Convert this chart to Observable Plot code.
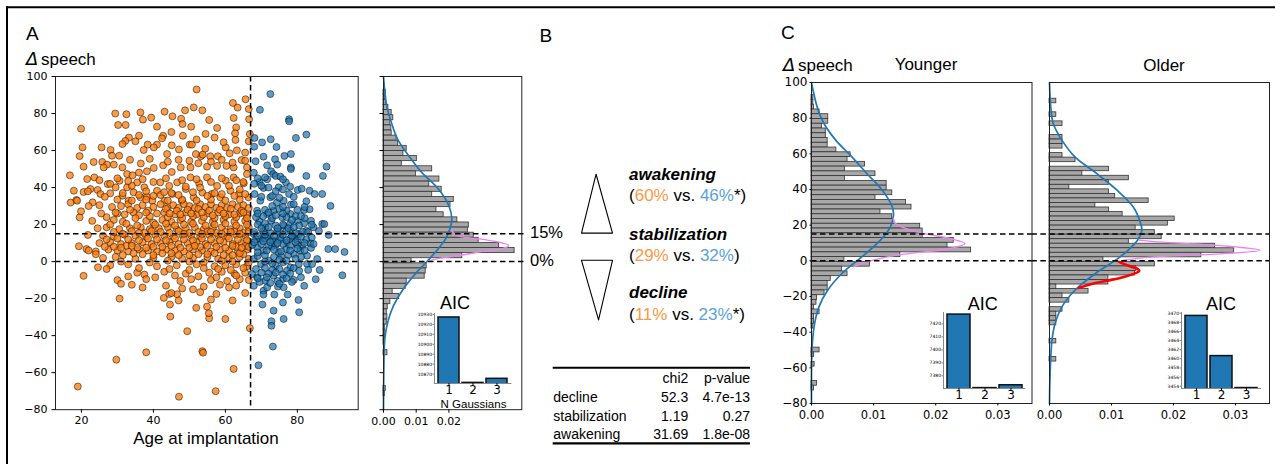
<!DOCTYPE html>
<html><head><meta charset="utf-8">
<script src="https://cdn.jsdelivr.net/npm/d3@7"></script>
<script src="https://cdn.jsdelivr.net/npm/@observablehq/plot@0.6"></script>
<style>
body{margin:0;background:#fff;}
#fig{position:relative;width:1283px;height:464px;overflow:hidden;background:#fff;}
</style></head><body><div id="fig"></div>
<script>
// ---------------- DATA ----------------
const ORANGE = "#ff7f0e", BLUE = "#1f77b4";
const ageSplit = 67;
const thresholds = [0, 15];
const ageTicks = [20, 40, 60, 80];
const deltaTicks = [-80, -60, -40, -20, 0, 20, 40, 60, 80, 100];

// scatter: [age at implantation, delta speech]
const youngerPts = [
[52,93],[19,-67.5],[29.7,-53],[38,-49],[47.1,-73],[49.4,-37.6],[53.6,-48.4],[53.8,-49.2],[57.3,-70],[62.3,-58],[60,-31],[66.8,-36],[55.5,-30.6],[55.4,-27.9],[54.9,-24.3],[51.9,-25],[44.7,-29.7],[44.6,-23.2],[42.9,-19.6],[44.4,-17.5],[46.6,-17.6],[30.6,-20],[20.6,-7.7],[24.6,-3.1],
[16.8,46.6],[17,31.9],[18.6,33.3],[19.9,71.8],[20.3,61.7],[19.5,57],[20.6,51.3],[19.5,23.9],[19.9,27.2],[19.3,8.3],[21.4,6.8],[21.8,14.4],[23.1,32],[22.5,39.2],[21.6,44.6],[25.6,61.7],[25.8,53.8],[27.1,52.4],
[29.4,80],[32.5,79.6],[30.2,73.8],[32.3,73.8],[36.4,80.6],[37.1,76.7],[39.4,77.8],[41,72.9],[43.1,81],[45.3,78.5],[47.7,77.2],[48.8,81.7],[51.2,83.3],[53.6,81.7],[48.1,74.3],[50.5,72.9],[55.5,76.5],[57.7,72.2],[62.1,85.7],[63.4,83.2],[65.6,87.7],[66.5,82.4],[62.3,77.6],[63,72.5],[66.6,76.9],[62.7,69.3],[62.8,65.7],[66.8,68.9],[66.5,65],
[48.2,68],[42.7,68],[42.4,66.6],[33.2,67],[32.2,65.2],[35,65],[31.4,63.5],[38.4,63.2],[41,63.2],[37.3,60.3],[45.1,62.8],[47.1,60.6],[50.1,63.2],[50.7,63.2],[53.2,56.9],[53.7,57.8],[55.8,56.9],[57.9,56.9],[60.1,61.7],[61.2,58.5],[63.2,60.1],[65.5,58.9],[54.4,61],[51.8,58.1],[43.8,58.1],[40.1,61.7],[28.1,60.3],[28.5,57.2],[30.5,57.2],
[23.4,53.8],[23.6,45.5],[26.2,50.9],[29,52.4],[31.4,50.9],[32.7,47.3],[34.2,46.6],[36,48.1],[38.2,48.8],[40.1,50.6],[42.7,52],[45.1,48.4],[47.6,50.9],[50.3,50.9],[52.5,53.1],[54.9,51.3],[57.7,51.7],[60.3,51.7],[62.3,50.9],[64.5,54.9],[66,50.9],
[17.9,38.3],[18.8,32.9],[20.6,37.6],[21.8,38],[24.5,38.7],[25.3,36.5],[27.3,41.9],[28,36.9],[29.5,40.1],[30.6,43.7],[31.4,35.6],[32.7,40.1],[33.1,32.9],[34.5,37.4],[35.5,42.8],[36.4,34.7],[37.5,40.1],[38.2,35.1],[39.7,32.9],[41,38.3],[41.9,42.8],[43.1,32.9],[44.4,40.9],[45.3,36.5],[46.6,42.8],[47.9,32.9],[49,39.2],[50.3,45.5],[51.2,34.7],[52.7,42.3],[53.6,37.3],[54.9,45.5],[56.2,36.5],[57.7,40.9],[58.6,34.7],[60.1,43.7],[61.4,38.3],[62.3,45.5],[63.8,36.5],[65.1,42.3],[66,47.3],[66.4,34.7],
[45,37],[49,40.5],[53,40],[57,37],[61,41],[64,39],[38,38],[42,36],[34,41],[28,42],
[22,30],[25,30.5],[28.5,29.5],[31,30],[33,31],[35.5,29],[37,30.5],[40,29.5],[42,31],[44,29],[45.5,30.5],[47,29],[48.5,31],[50,30],[51.5,29],[53,31],[54.5,29.5],[56,31],[57.5,29],[59,30.5],[60.5,29],[62,31],[63.5,29.5],[65,30.5],[66.5,29],
[30,26],[32,25.5],[34.5,26.5],[36,25],[41,26],[43,26.5],[46,25.5],[49,26.5],[52,25.5],[55,26],[58,26.5],[61,25.5],[64,26],[66,25],
[23,22],[29,22.5],[31.5,21.5],[38,22],[40,21],[42.5,22.5],[45,21.5],[47.5,22.5],[50.5,21.5],[53.5,22],[56.5,21.5],[59.5,22.5],[62.5,21.5],[65.5,22],
[24.5,18],[27,18.5],[30.5,17.5],[33.5,18],[36.5,18.5],[39,17.5],[41.5,18],[44,18.5],[46.5,17.5],[49,18],[51.5,18.5],[54,17.5],[56.5,18],[59,18.5],[61.5,17.5],[64,18],[66.5,18.5],
[26,14],[29,13.5],[32,14.5],[35,14],[38,13.5],[40.5,14.5],[43,14],[45.5,13.5],[48,14.5],[50.5,14],[53,13.5],[55.5,14.5],[58,14],[60.5,13.5],[63,14.5],[65.5,14],
[25,10],[28,10.5],[31,9.5],[34,10],[37,10.5],[39.5,9.5],[42,10],[44.5,10.5],[47,9.5],[49.5,10],[52,10.5],[54.5,9.5],[57,10],[59.5,10.5],[62,9.5],[64.5,10],[66.5,10.5],
[22,6],[24,5.5],[27.5,6.5],[30,6],[33,5.5],[36,6.5],[38.5,6],[41,5.5],[43.5,6.5],[46,6],[48.5,5.5],[51,6.5],[53.5,6],[56,5.5],[58.5,6.5],[61,6],[63.5,5.5],[66,6.5],
[26,2],[29.5,2.5],[35,1.5],[40,2],[45,2.5],[48,1.5],[51,2],[55,2.5],[58,1.5],[61,2],[64,2.5],[66.5,1.5],
[28,-2],[33,-1.5],[41,-2.5],[46.5,-2],[52,-1.5],[57,-2.5],[60,-2],[63,-1.5],[66,-2.5],
[35.5,-6],[37.5,-7],[43,-5.5],[49,-6.5],[55.5,-6],[59,-5.5],[62.5,-6.5],[65.5,-6],
[30,-10],[38,-9.5],[47.5,-10.5],[50.5,-9.5],[56,-10],[60.5,-10.5],[64,-9.5],[66.5,-10],
[31,-12],[34,-12.5],[43.5,-13],[54,-13.5],[58.5,-12.5],[63,-13],
[45,-17],[53,-16.5],[57.5,-17.5],[65.5,-17],
[30,33.5],[34,33],[38,33.5],[44,33],[48,33.5],[52,33],[56,33.5],[60,33],[64,33.5],
[27,24],[35,23.5],[39,24.5],[44,24],[48,23.5],[51,24.5],[54,24],[57,23.5],[60,24.5],[63,24],[66,23.5],
[29,16],[34,16.5],[37.5,15.5],[42,16],[47,16.5],[50,15.5],[52.5,16],[55,16.5],[57.5,15.5],[60,16],[62.5,16.5],[65,15.5],
[27,12],[30,12.5],[36,11.5],[41,12],[46,12.5],[51,11.5],[56,12],[61,12.5],[66,11.5],
[29,8],[32.5,8.5],[35.5,7.5],[40,8],[45,8.5],[50,7.5],[53,8],[55,8.5],[60,7.5],[63,8],[65.5,8.5],
[37,4],[42.5,4.5],[47,3.5],[52.5,4],[57,4.5],[62,3.5],[65,4],
[31,0],[39,-0.5],[44,0.5],[50,0],[54,-0.5],[59,0.5],[62,0],[66.5,-0.5],
[33.5,28],[38.5,27.5],[43.5,28.5],[46.5,27.5],[49.5,28],[52.5,28.5],[55.5,27.5],[58.5,28],[61.5,28.5],[64.5,27.5],
[28,20],[32.5,20.5],[35.5,19.5],[40.5,20],[43.5,20.5],[46,19.5],[48.5,20],[51,20.5],[54.5,19.5],[57,20],[60,20.5],[63,19.5],[66,20],
[33,12],[38.5,12.5],[43.5,11.5],[48.5,12],[53.5,12.5],[58.5,11.5],[63.5,12],
[24,4],[31.5,3.5],[34.5,4.5],[40,3.5],[45,4.5],[50,3.5],[55,4],[59.5,3.5],[64,4.5],
[27,-4],[36,-3.5],[44.5,-4],[50,-4.5],[54,-3.5],[58,-4],[61.5,-4.5],[65,-3.5],
[33,-8],[40.5,-8.5],[46,-7.5],[52.5,-8],[57.5,-8.5],[63,-7.5],
[37,-14],[48,-14.5],[51,-15],[61,-14],
[47,-21],[56,-20.5],[62,-21],
[26.5,35],[31.5,37],[36,36],[40,35.5],[43,37.5],[47,36],[51,37.5],[55,35.5],[59,36.5],[62.5,35.5],[65.5,36.5],
[25,44],[30,45],[33,43.5],[37,44.5],[40,43],[43.5,45],[48,44],[52,44.5],[56,43],[59,45],[63,44],[65,43],
[33.5,55],[36.5,53],[39,55.5],[44,54],[47,55],[50,54.5],[56,54],[59,55],[62,53.5],[65.5,54.5],
[36,68],[45,70],[52,66],[57,67],[59.5,64.5],[54.5,69],
[25.5,26],[29.5,26.5],[38,26.5],[44.5,26],[47.5,25.5],[50.5,26],[53.5,26.5],[56.5,25],[59.5,26],[62.5,25.5],[65,26.5],
[31.5,15],[36,15.5],[39.5,16.5],[44.5,15.5],[48.5,15],[53.5,15],[56,16],[59,15],[61.5,16],[64,15],[66.5,16],
[26.5,8],[31,7.5],[34,8.5],[38,7.5],[42.5,8],[47.5,7.5],[51.5,8.5],[57.5,8],[62,8.5],[64.5,7.5],[66.5,8]
];
const olderPts = [
[72.5,90.5],[69.6,82],[77.7,76.9],[77.7,75.8],[79.6,66.8],[82.5,68.6],[68.1,66.8],[70.2,64.4],[72.6,66.1],[74.2,61.9],[68,62.1],[70.6,56.7],[76.4,57.1],[78.2,58.1],[73.8,55.3],[68.4,54.2],[71.6,52],[74.4,52.4],[78.2,50.9],[78.2,50],[88.1,51.3],[82.5,46.3],[87.1,46.3],[72.7,48.8],[73.3,47.3],[74,46.3],[67.9,48],[69.5,43],[71.6,44.5],[75.3,45.9],[76.8,42.8],[70.6,39.8],[74.8,40.1],[77.7,36.5],[80.1,38.7],[81.2,39.4],[83.4,38.3],[84.8,36.5],[86.9,36.5],[82.5,32.6],[89.2,30.1],[81.9,27.9],[83.4,28.3],[68.1,36.5],[69.7,32.9],[72.5,34.7],[74.3,31.9],[76.2,32.9],[78.2,30.8],[68.8,27.5],[71.6,25.7],[73.4,27.5],[75.8,23.9],[78.1,25.7],[80,22.2],[81.9,20.7],[83.8,22.1],[86.9,20.3],[87.5,20.3],[69.4,21.8],[71.1,18.5],[72.7,22.1],[74.4,16.7],[76.2,19.4],[78.1,16.7],[80.4,14.9],[82.5,16.7],[84.5,18.5],[88.7,14.4],[67.9,14.9],[69.7,12.2],[71.6,13.9],[73.4,11.3],[75.3,13.1],[77.1,10.4],[79,12.8],[81.3,8.6],[83.6,9.9],[83.8,7.4],[88.6,6.8],[90.5,6.8],[93.1,5.2],[68.8,7.7],[70.6,5.9],[72.9,8.1],[74.8,5],[76.9,6.8],[79,4.1],[80.8,5.9],[82.7,3.2],[85.5,1.4],[67.9,1.4],[69.9,-1.3],[72.1,0.5],[74,-2.2],[76,-0.4],[78.1,-3.1],[80.4,-1.3],[82.7,-1.3],[84.1,-1.3],[86.2,-4.5],[85.1,-9.5],[92.5,-7.4],[67.4,-6.7],[68.8,-8.5],[71.1,-10.3],[73.4,-7.6],[76,-9.4],[77.1,-4.9],[79,-9.9],[81,-8.5],[81.9,-13.1],[67.9,-13.1],[70.6,-15.7],[71.6,-13.9],[74.6,-13.5],[76.2,-13.9],[70.6,-17.8],[73.6,-17.8],[70.3,-23.2],[77.3,-17.8],[76,-22.1],[80.3,-20.7],[73.4,-26.5],[80.5,-27.4],[72.8,-32.2],[72.8,-34.7],[76.2,-31],[73.2,-45.9],[69.2,-56],
[69,45],[71,45.5],[76,44.5],[70,35],[73,35.5],[75,34.5],[79,35],[71,28],[75,28.5],[77,27.5],[80,28],[68.5,24],[70.5,24.5],[73,23.5],[77,24],[79.5,24.5],[82,23.5],[69,20],[71,20.5],[74,19.5],[76,20],[78,20.5],[80.5,19.5],[84,20],[68,16],[70.5,16.5],[72.5,15.5],[75,16],[77,16.5],[79.5,15.5],[81.5,16],[86,16.5],[68.5,12],[71,12.5],[73,11.5],[75.5,12],[78,12.5],[80,11.5],[82.5,12],[67.5,9],[70,9.5],[72,8.5],[74,9],[76,9.5],[78,8.5],[80,9],[84.5,9.5],[69,3],[71,3.5],[73.5,2.5],[75.5,3],[77.5,3.5],[81,2.5],[68.5,-4],[71,-3.5],[73,-4.5],[75,-4],[79,-3.5],[83,-4.5],[69.5,-11],[72.5,-11.5],[74.5,-10.5],[78.5,-11],
[68,42],[70,41],[72,40],[74,38],[76,39],[78,40.5],[73,30],[76,29.5],[79,31],[82,29.5],[69,26],[72,26.5],[74,25],[76,26],[78.5,22.5],[81,24.5],[70,18],[72,18.5],[74.5,18],[77.5,18],[79,18.5],[83,16],[69,14],[71,14.5],[73.5,14],[76,14.5],[78.5,14],[81,13.5],[84,13],[68,10.5],[70.5,11],[72.5,10.5],[74.5,10],[77,11.5],[79.5,10.5],[82,10],[69,5],[71.5,6],[73.5,6.5],[75.5,5.5],[78,6],[80,7],[82,6],[71,0],[73,-1],[75,1],[77,0.5],[79.5,1.5],[70,-6],[72,-6.5],[74,-6],[76,-7],[78,-6.5],[80.5,-5],[69,-9],[71.5,-8.5],[75,-12],[77,-9]
];

// histograms: density per bin (in the units of each panel's axis), listed from the top bin downward
const histAllTop = 92.9, histAllBin = 2.76;
const histAll = [0.0007,0.0004,0.0007,0.0015,0.0025,0.0030,0.0021,0.0024,0.0025,0.0040,0.0045,0.0071,0.0061,0.0102,0.0056,0.0149,0.0099,0.0171,0.0140,0.0178,0.0149,0.0215,0.0205,0.0162,0.0184,0.0226,0.0261,0.0258,0.0276,0.0291,0.0353,0.0401,0.0241,0.0086,0.0132,0.0129,0.0126,0.0071,0.0068,0.0028,0.0048,0.0021,0.0013,0.0010,0.0012,0.0010,0.0004,0.0004,0.0004,0.0004,0,0.0012,0,0,0,0,0,0,0.0007,0.0004];
const histYoungTop = 92.9, histYoungBin = 2.671;
const histYoung = [0.0003,0.0003,0.0004,0.0013,0.0027,0.0027,0.0017,0.0023,0.0023,0.0026,0.0026,0.0040,0.0063,0.0058,0.0086,0.0054,0.0103,0.0054,0.0121,0.0121,0.0130,0.0103,0.0152,0.0161,0.0111,0.0130,0.0132,0.0175,0.0179,0.0179,0.0229,0.0219,0.0257,0.0143,0.0053,0.0094,0.0049,0.0058,0.0031,0.0026,0.0026,0.0021,0.0009,0.0008,0.0004,0.0013,0.0004,0.0004,0.0003,0,0,0,0,0.0013,0.0004,0,0.0005,0,0,0,0.0009,0.0004];
const histOldTop = 90.9, histOldBin = 2.541;
const histOld = [0.0011,0,0,0.0011,0,0.0021,0,0,0.0021,0.0021,0.0021,0,0.0021,0.0042,0,0.0096,0.0053,0.0128,0.0096,0.0032,0.0096,0.0106,0.0160,0.0074,0.0096,0.0118,0.0202,0.0191,0.0139,0.0170,0.0181,0.0128,0.0267,0.0298,0.0245,0.0087,0.0170,0.0140,0.0138,0.0095,0.0095,0.0011,0.0063,0.0021,0.0032,0,0.0021,0.0011,0.0011,0.0011,0,0,0,0.0011,0,0,0,0.0011];

// fitted curves: [delta, density]
const fitAll1 = [[100,0],[84,0.0010],[75.2,0.0024],[66.2,0.0043],[57.2,0.0077],[48.2,0.0117],[39.2,0.0168],[30.2,0.0200],[23,0.0209],[17.6,0.0203],[12.3,0.0190],[6,0.0163],[0.4,0.0135],[-5.7,0.0102],[-14.7,0.0061],[-23.7,0.0031],[-32.7,0.0013],[-41.7,0.0004],[-59.7,0.0001],[-80,0]];
const fitAllPeak = [[16.7,0.0208],[14,0.0226],[12,0.0304],[10.4,0.0356],[8.7,0.0383],[7,0.0364],[5.5,0.0304],[3.6,0.0241],[2,0.0178],[0.4,0.0137]];
const fitYoung1 = [[100,0],[86.4,0.0009],[77,0.002],[67.7,0.0039],[58.3,0.0065],[49,0.0089],[39.6,0.0114],[30.3,0.0130],[25.6,0.0132],[19.1,0.0127],[11.6,0.0111],[2.2,0.0081],[-7.1,0.0049],[-16.5,0.0026],[-25.8,0.0012],[-35.2,0.0005],[-48.3,0.0001],[-80,0]];
const fitYoungPeak = [[23.7,0.0132],[21,0.0135],[16.2,0.0170],[12.5,0.0223],[9.7,0.0247],[6.9,0.0223],[3.2,0.0138],[-0.6,0.0089],[-3.3,0.0068]];
const fitOld1 = [[100,0],[86.4,0.0002],[77,0.0006],[67.7,0.002],[58.3,0.0041],[49,0.0076],[39.6,0.0109],[30.3,0.0135],[21,0.0147],[17.2,0.0149],[11.6,0.0142],[2.2,0.0114],[-7.1,0.0074],[-16.5,0.0041],[-25.8,0.002],[-35.2,0.0009],[-44.5,0.0004],[-63.2,0.0001],[-80,0]];
const fitOldPeak = [[11.6,0.0144],[10.8,0.0168],[8.5,0.0276],[6,0.0339],[3.9,0.0276],[2.2,0.0168],[0.4,0.0119]];
const fitOldDecline = [[-0.6,0.0112],[-2.5,0.0125],[-4.5,0.0142],[-5.6,0.0145],[-7,0.0138],[-9,0.0120],[-11,0.0095],[-13,0.0068],[-15.2,0.0047]];

// AIC by number of Gaussians
const nGauss = ["1","2","3"];
const aicAll = [10927, 10861.2, 10865.3];
const aicYoung = [7427.2, 7370.6, 7372.8];
const aicOld = [3469.4, 3460.6, 3453.6];

// panel B
const outcomes = ["awakening","stabilization","decline"];
const pctYounger = ["60%","29%","11%"];
const pctOlder = ["46%","32%","23%"];
const signif = [true,false,true];
const upArrow = [[0,15.4],[0.47,47.2],[1,15.4],[0,15.4]];
const downArrow = [[0,0.7],[1,0.7],[0.55,-31.5],[0,0.7]];
const tableCols = ["chi2","p-value"];
const tableRows = ["decline","stabilization","awakening"];
const tableChi2 = ["52.3","1.19","31.69"];
const tablePval = ["4.7e-13","0.27","1.8e-08"];

// ---------------- DRAW ----------------
const fig = document.getElementById("fig");
const TICKFONT = "DejaVu Sans";
const SANS = "Liberation Sans, Arial, sans-serif";
function place(el, left, top, z) {
  el.style.position = "absolute"; el.style.left = left + "px"; el.style.top = top + "px";
  el.style.zIndex = z || 1; fig.appendChild(el);
}
function st(size) { return {background: "none", overflow: "visible", fontFamily: TICKFONT, fontSize: size + "px", color: "#000"}; }
function rows(dens, top, w) {
  return dens.map((d, i) => ({d, y2: top - i * w, y1: top - (i + 1) * w})).filter(r => r.d > 0);
}
const dash = {stroke: "#000", strokeWidth: 1.5, strokeDasharray: "5.5,3.5"};
const fmt2 = d3.format(".2f");
const fmtInt = d3.format("d");

// Panel A scatter
{
  const L = 55, R = 357.7, T = 75.5, B = 408.7, mL = 45, mR = 2, mT = 2, mB = 32;
  const p = Plot.plot({
    width: R - L + mL + mR, height: B - T + mT + mB,
    marginLeft: mL, marginRight: mR, marginTop: mT, marginBottom: mB,
    style: st(11),
    x: {domain: [12.8, 96.9]}, y: {domain: [-80, 100]},
    marks: [
      Plot.dot(youngerPts, {x: d => d[0], y: d => d[1], r: 3.5, fill: ORANGE, fillOpacity: 0.78, stroke: "#000", strokeOpacity: 0.7, strokeWidth: 0.7}),
      Plot.dot(olderPts, {x: d => d[0], y: d => d[1], r: 3.5, fill: BLUE, fillOpacity: 0.72, stroke: "#000", strokeOpacity: 0.7, strokeWidth: 0.7}),
      Plot.ruleY(thresholds, dash),
      Plot.ruleX([ageSplit], dash),
      Plot.frame({stroke: "#222"}),
      Plot.axisX(ageTicks, {tickSize: 3.5, tickPadding: 3.5, label: null}),
      Plot.axisY(deltaTicks, {tickSize: 3.5, tickPadding: 4.5, label: null})
    ]
  });
  place(p, L - mL, T - mT);
}
// Panel A histogram
{
  const L = 383, R = 521.3, T = 75.5, B = 408.7, mL = 8, mR = 10, mT = 2, mB = 32;
  const p = Plot.plot({
    width: R - L + mL + mR, height: B - T + mT + mB,
    marginLeft: mL, marginRight: mR, marginTop: mT, marginBottom: mB,
    style: st(11),
    x: {domain: [0, 0.0423]}, y: {domain: [-80, 100]},
    marks: [
      Plot.rect(rows(histAll, histAllTop, histAllBin), {x1: () => 0, x2: "d", y1: "y1", y2: "y2", fill: "#a8a8a8", stroke: "#333", strokeWidth: 0.8}),
      Plot.line(fitAll1, {x: d => d[1], y: d => d[0], stroke: BLUE, strokeWidth: 1.7, curve: "catmull-rom"}),
      Plot.line(fitAllPeak, {x: d => d[1], y: d => d[0], stroke: "violet", strokeWidth: 1.4, curve: "catmull-rom"}),
      Plot.ruleY(thresholds, {...dash, x1: () => 0, x2: () => 0.0438}),
      Plot.frame({stroke: "#222"}),
      Plot.axisX([0, 0.01, 0.02], {tickSize: 3.5, tickPadding: 3.5, tickFormat: fmt2, label: null}),
      Plot.axisY(deltaTicks, {tickSize: 3.5, tickFormat: () => "", label: null})
    ]
  });
  place(p, L - mL, T - mT);
}
// AIC inset
function aicInset(vals, dom, ticks, L, R, T, B, z) {
  const mL = 22, mR = 2, mT = 2, mB = 16;
  const p = Plot.plot({
    width: R - L + mL + mR, height: B - T + mT + mB,
    marginLeft: mL, marginRight: mR, marginTop: mT, marginBottom: mB,
    style: st(12),
    x: {type: "band", domain: nGauss, padding: 0.12}, y: {domain: dom},
    marks: [
      Plot.barY(vals, {x: (d, i) => nGauss[i], y: d => d, fill: BLUE, stroke: "#111", strokeWidth: 1.5, clip: true}),
      Plot.ruleY([dom[0]], {stroke: "#888", strokeWidth: 1}),
      Plot.frame({anchor: "left", stroke: "#888"}),
      Plot.axisY(ticks, {tickSize: 1.5, tickPadding: 1, fontSize: 4.5, tickFormat: fmtInt, label: null, stroke: "#888"}),
      Plot.axisX({tickSize: 2, tickPadding: 0, label: null})
    ]
  });
  place(p, L - mL, T - mT, z || 2);
}
aicInset(aicAll, [10860.6, 10931], [10870, 10880, 10890, 10900, 10910, 10920, 10930], 434.3, 511.7, 313.3, 383.3);
aicInset(aicYoung, [7370.3, 7428.8], [7380, 7390, 7400, 7410, 7420], 942.7, 1025, 312.3, 388.3);
aicInset(aicOld, [3453.5, 3470.15], [3454, 3456, 3458, 3460, 3462, 3464, 3466, 3468, 3470], 1181, 1261, 312.3, 388.3);

// Panel B triangles (in delta coordinates, aligned with 0% / 15%)
{
  const L = 580.7, R = 611.7, T = 75.5, B = 408.7, m = 3;
  const p = Plot.plot({
    width: R - L + 2 * m, height: B - T + 2 * m, margin: m, style: st(11),
    x: {domain: [0, 1], axis: null}, y: {domain: [-80, 100], axis: null},
    marks: [
      Plot.line(upArrow, {x: d => d[0], y: d => d[1], stroke: "#000", strokeWidth: 1.1}),
      Plot.line(downArrow, {x: d => d[0], y: d => d[1], stroke: "#000", strokeWidth: 1.1})
    ]
  });
  place(p, L - m, T - m);
}
// Panel C histograms
function histC(dens, top, w, fit1, peak, decline, L, R, showY, ruleX1) {
  const T = 82.3, B = 403.3, mL = showY ? 40 : 20, mR = 2, mT = 2, mB = 22;
  const marks = [
    Plot.rect(rows(dens, top, w), {x1: () => 0, x2: "d", y1: "y1", y2: "y2", fill: "#a8a8a8", stroke: "#333", strokeWidth: 0.8}),
    Plot.line(fit1, {x: d => d[1], y: d => d[0], stroke: BLUE, strokeWidth: 1.7, curve: "catmull-rom"}),
    Plot.line(peak, {x: d => d[1], y: d => d[0], stroke: "violet", strokeWidth: 1.4, curve: "catmull-rom"})
  ];
  if (decline) marks.push(Plot.line(decline, {x: d => d[1], y: d => d[0], stroke: "red", strokeWidth: 2.6, curve: "catmull-rom"}));
  marks.push(
    Plot.ruleY(thresholds, {...dash, x1: () => ruleX1, x2: () => 0.0355}),
    Plot.frame({stroke: "#222"}),
    Plot.axisX([0, 0.01, 0.02, 0.03], {tickSize: 2.5, tickPadding: 4.5, tickFormat: fmt2, label: null}),
    Plot.axisY(deltaTicks, {tickSize: showY ? 1.5 : 0, tickPadding: 2.5, tickFormat: showY ? undefined : () => "", label: null, fontSize: 12})
  );
  const p = Plot.plot({
    width: R - L + mL + mR, height: B - T + mT + mB,
    marginLeft: mL, marginRight: mR, marginTop: mT, marginBottom: mB,
    style: st(11.5),
    x: {domain: [0, 0.0355]}, y: {domain: [-80, 100]},
    marks
  });
  place(p, L - mL, T - mT);
}
histC(histYoung, histYoungTop, histYoungBin, fitYoung1, fitYoungPeak, null, 811, 1031.5, true, 0);
histC(histOld, histOldTop, histOldBin, fitOld1, fitOldPeak, fitOldDecline, 1049.3, 1269.3, false, -0.00285);

// ---------------- TEXT OVERLAY ----------------
const ov = d3.create("svg").attr("width", 1283).attr("height", 464)
  .style("position", "absolute").style("left", "0px").style("top", "0px").style("z-index", 5)
  .style("overflow", "visible").style("pointer-events", "none");
function T(x, y, s, o = {}) {
  return ov.append("text").attr("x", x).attr("y", y).text(s)
    .attr("font-family", o.family || SANS).attr("font-size", o.size || 16)
    .attr("font-weight", o.weight || null).attr("font-style", o.style || null)
    .attr("text-anchor", o.anchor || "start").attr("fill", o.fill || "#000");
}
// frame lines
ov.append("line").attr("x1", 7).attr("x2", 7).attr("y1", 6.3).attr("y2", 464).attr("stroke", "#000").attr("stroke-width", 2);
ov.append("line").attr("x1", 6).attr("x2", 1275).attr("y1", 7.3).attr("y2", 7.3).attr("stroke", "#000").attr("stroke-width", 2);
// panel letters
T(26, 40, "A", {size: 19});
T(539.5, 41.5, "B", {size: 19});
T(781, 39, "C", {size: 19});
// y-labels
T(26, 65, "Δ", {size: 18, family: "DejaVu Sans", style: "italic"});
T(41, 65, "speech", {size: 17});
T(783, 70.5, "Δ", {size: 18, family: "DejaVu Sans", style: "italic"});
T(798, 70.5, "speech", {size: 17});
T(926, 69.5, "Younger", {size: 17, anchor: "middle"});
T(1164, 70.5, "Older", {size: 17, anchor: "middle"});
T(206, 444, "Age at implantation", {size: 17, anchor: "middle"});
// thresholds
T(530, 238.3, "15%", {size: 16.5});
T(530, 265.7, "0%", {size: 16.5});
// AIC
T(455, 309, "AIC", {size: 18, anchor: "middle"});
T(473.5, 408, "N Gaussians", {size: 11.5, anchor: "middle"});
T(982.7, 310, "AIC", {size: 18, anchor: "middle"});
T(1221, 310, "AIC", {size: 18, anchor: "middle"});
// Panel B labels
const nameY = [180, 240, 298.3];
outcomes.forEach((name, i) => {
  T(629, nameY[i], name, {size: 17, weight: "bold", style: "italic"});
  const t = T(629, nameY[i] + 21.2, "", {size: 17});
  t.append("tspan").text("(");
  t.append("tspan").attr("fill", "#f89a45").text(pctYounger[i]);
  t.append("tspan").text(" vs. ");
  t.append("tspan").attr("fill", "#5aa2da").text(pctOlder[i]);
  t.append("tspan").text((signif[i] ? "*" : "") + ")");
});
// table
ov.append("line").attr("x1", 552.7).attr("x2", 750).attr("y1", 367.7).attr("y2", 367.7).attr("stroke", "#000").attr("stroke-width", 2);
ov.append("line").attr("x1", 552.7).attr("x2", 750).attr("y1", 443.3).attr("y2", 443.3).attr("stroke", "#000").attr("stroke-width", 2.2);
T(688.3, 383.3, tableCols[0], {size: 14, anchor: "end"});
T(750, 383.3, tableCols[1], {size: 14, anchor: "end"});
const rowY = [401.7, 420.7, 439];
tableRows.forEach((r, i) => {
  T(553.3, rowY[i], r, {size: 14});
  T(688.3, rowY[i], tableChi2[i], {size: 14, anchor: "end"});
  T(750, rowY[i], tablePval[i], {size: 14, anchor: "end"});
});
fig.appendChild(ov.node());
</script></body></html>
